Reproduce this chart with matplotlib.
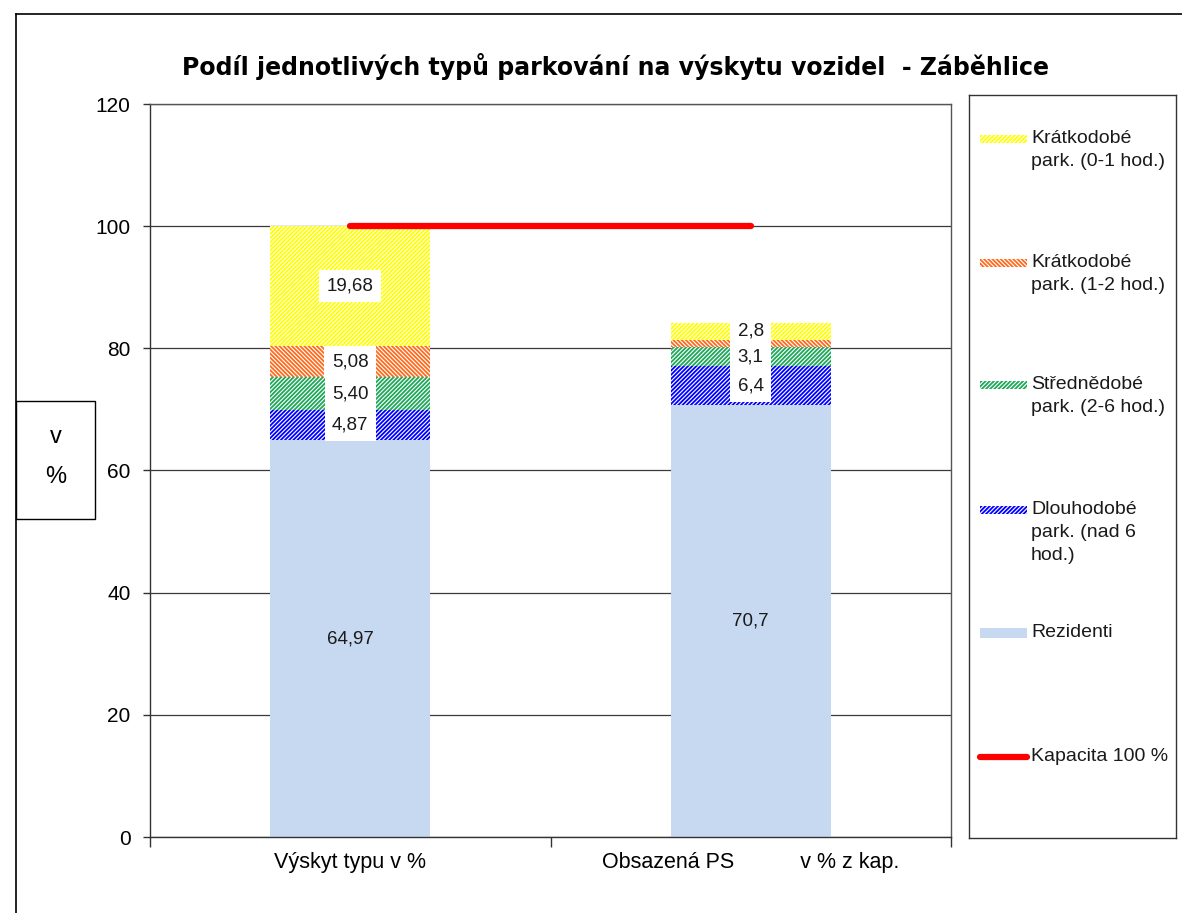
import matplotlib
matplotlib.use("Agg")
import matplotlib.pyplot as plt
from matplotlib.patches import Rectangle
from matplotlib.lines import Line2D

plt.rcParams['font.family'] = ['Liberation Sans', 'DejaVu Sans']
plt.rcParams['hatch.linewidth'] = 1.3

categories = ["Výskyt typu v %", "Obsazená PS           v % z kap."]
series_names = [
    "Rezidenti",
    "Dlouhodobé\npark. (nad 6\nhod.)",
    "Střednědobé\npark. (2-6 hod.)",
    "Krátkodobé\npark. (1-2 hod.)",
    "Krátkodobé\npark. (0-1 hod.)",
]
rezidenti = [64.97, 70.7]
dlouhodobe = [4.87, 6.4]
strednedobe = [5.40, 3.1]
kratko_12 = [5.08, 1.2]
kratko_01 = [19.68, 2.8]
kapacita = [100, 100]
decimals = [2, 1]

series = [rezidenti, dlouhodobe, strednedobe, kratko_12, kratko_01]
colors = ['#C6D9F0', '#0000FF', '#1FA75A', '#FF6A1C', '#FFFF00']
hatches = [None, '////////', '////////', '\\' * 8, '////////']

W, H = 1182, 913
fig = plt.figure(figsize=(W / 100, H / 100), dpi=100)

# outer frame (only left and top edges visible in the crop)
fig.add_artist(Line2D([16 / W, 16 / W], [0, 1 - 14 / H], color='black', lw=1.2))
fig.add_artist(Line2D([16 / W, 1], [1 - 14 / H, 1 - 14 / H], color='black', lw=1.2))

ax = fig.add_axes([150 / W, 1 - 837 / H, 801 / W, 733 / H])
x = [0, 1]
bottom = [0, 0]
for vals, col, hat, name in zip(series, colors, hatches, series_names):
    if hat is None:
        ax.bar(x, vals, width=0.4, bottom=bottom, color=col, linewidth=0, zorder=2)
    else:
        ax.bar(x, vals, width=0.4, bottom=bottom, facecolor='white', edgecolor=col,
               hatch=hat, linewidth=0, zorder=2)
    for i in range(2):
        if vals[i] < 2:
            continue
        lab = f"{vals[i]:.{decimals[i]}f}".replace('.', ',')
        yc = bottom[i] + vals[i] / 2
        if hat is None:
            ax.text(x[i], yc, lab, ha='center', va='center', fontsize=13.5,
                    color='#1a1a1a', zorder=5)
        else:
            ax.text(x[i], yc, lab, ha='center', va='center', fontsize=13.5,
                    color='#1a1a1a', zorder=5,
                    bbox=dict(boxstyle='square,pad=0.4', fc='white', ec='none'))
    bottom = [b + v for b, v in zip(bottom, vals)]

ax.plot(x, kapacita, color='#FF0000', lw=4.5, solid_capstyle='round', zorder=6)

ax.set_xlim(-0.5, 1.5)
ax.set_ylim(0, 120)
ax.set_yticks(range(0, 121, 20))
ax.yaxis.grid(True, color='#3a3a3a', lw=0.9)
ax.set_axisbelow(True)
ax.tick_params(axis='y', labelsize=15, length=5, width=1, pad=9, color='#333333')
ax.set_xticks(x)
ax.set_xticklabels(categories, fontsize=15.5)
ax.tick_params(axis='x', length=0, pad=11)
ax.set_xticks([-0.5, 0.5, 1.5], minor=True)
ax.tick_params(axis='x', which='minor', length=7, width=1, color='#333333')
for s in ax.spines.values():
    s.set_color('#555555')
    s.set_linewidth(1)
ax.spines['left'].set_color('#333333')
ax.spines['bottom'].set_color('#333333')

# y axis label box
fig.add_artist(Rectangle((16 / W, 1 - 519 / H), 79 / W, 118 / H, fill=False,
                         ec='black', lw=1, transform=fig.transFigure))
fig.text(56 / W, 1 - 437 / H, "v", ha='center', va='center', fontsize=17)
fig.text(56 / W, 1 - 477 / H, "%", ha='center', va='center', fontsize=17)

fig.text(616 / W, 1 - 66 / H,
         "Podíl jednotlivých typů parkování na výskytu vozidel  - Záběhlice",
         ha='center', va='center', fontsize=17, fontweight='bold',
         family='DejaVu Sans')

# legend panel
lax = fig.add_axes([969 / W, 1 - 838 / H, 207 / W, 743 / H])
lax.set_xlim(0, 207)
lax.set_ylim(743, 0)
lax.set_xticks([])
lax.set_yticks([])
for s in lax.spines.values():
    s.set_color('#333333')
    s.set_linewidth(1)

rows = [44, 168, 290, 415, 538, 662]
order = [4, 3, 2, 1, 0]
for yy, k in zip(rows[:5], order):
    if hatches[k] is None:
        lax.add_patch(Rectangle((11, yy - 5), 47, 10, fc=colors[k], lw=0))
    else:
        lax.add_patch(Rectangle((11, yy - 4), 47, 8, fc='white', ec=colors[k],
                                hatch=hatches[k], lw=0))
    lax.text(62, yy - 9, series_names[k], ha='left', va='top', fontsize=14,
             linespacing=1.45, color='#1a1a1a')
lax.plot([11, 58], [rows[5], rows[5]], color='#FF0000', lw=4.5, solid_capstyle='round')
lax.text(62, rows[5] - 9, "Kapacita 100 %", ha='left', va='top', fontsize=14,
         color='#1a1a1a')

fig.savefig("out.png", dpi=100)
